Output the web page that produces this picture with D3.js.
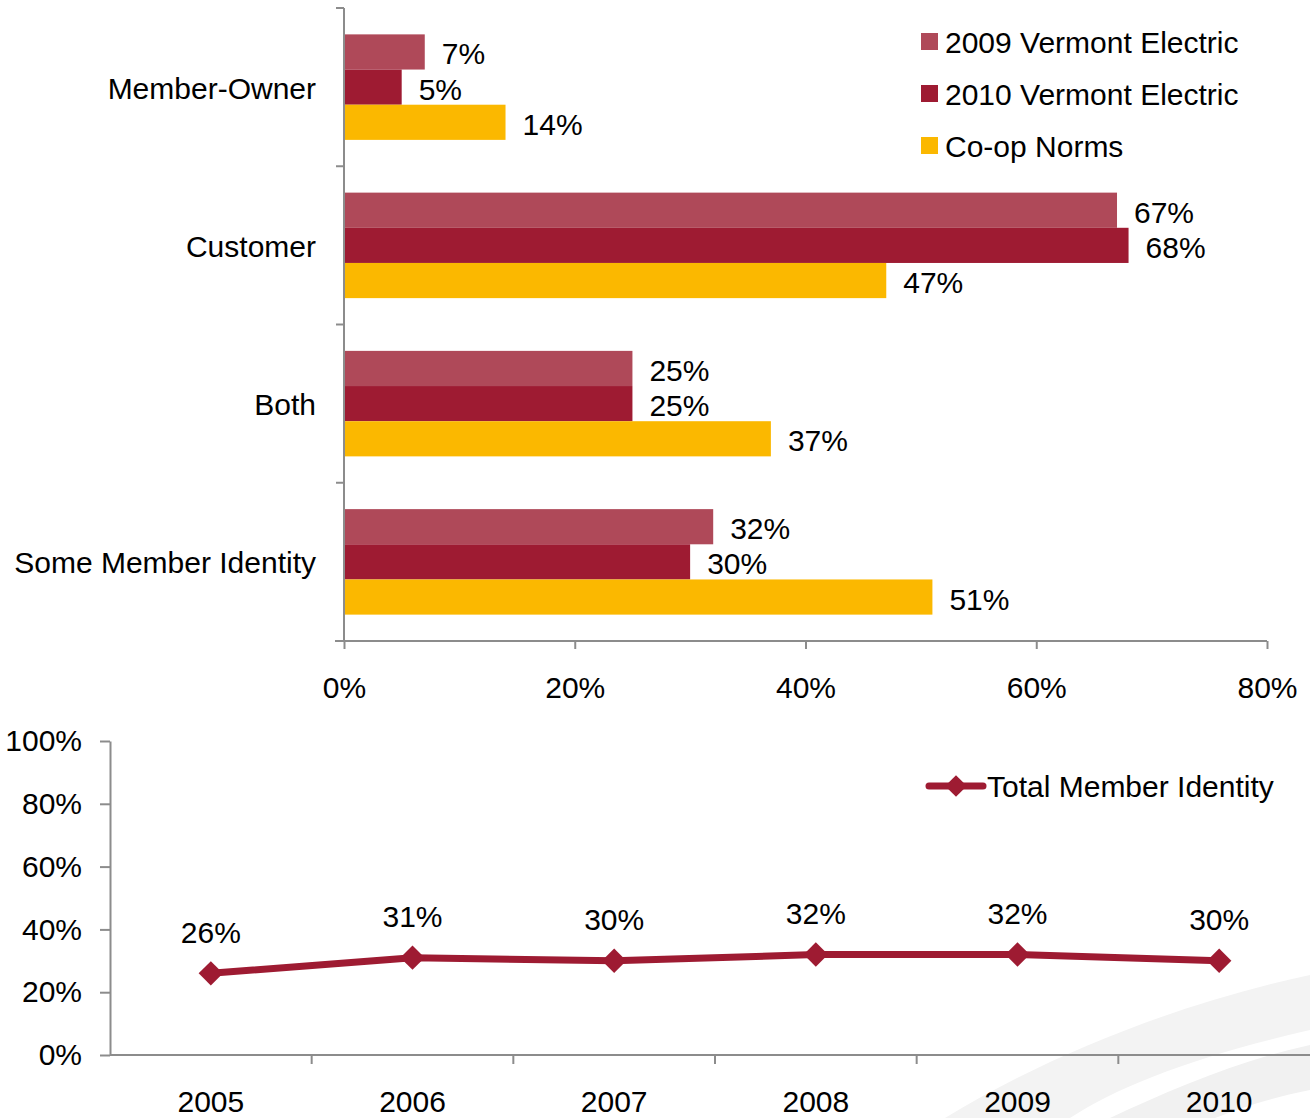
<!DOCTYPE html>
<html>
<head>
<meta charset="utf-8">
<script src="https://cdn.jsdelivr.net/npm/d3@7"></script>
<style>
  body { margin: 0; background: #fff; }
  svg { display: block; font-family: "Liberation Sans", Arial, sans-serif; }
  .axis path, .axis line { stroke: #8c8c8c; stroke-width: 2; }
  .axis text { font-size: 30px; fill: #000; }
</style>
</head>
<body>
<svg id="chart" width="1310" height="1118"></svg>
<script>
// top chart data
const categories = ["Member-Owner", "Customer", "Both", "Some Member Identity"];
const seriesNames = ["2009 Vermont Electric", "2010 Vermont Electric", "Co-op Norms"];
const vals2009 = [7, 67, 25, 32];
const vals2010 = [5, 68, 25, 30];
const valsNorms = [14, 47, 37, 51];
const barTicks = [0, 20, 40, 60, 80];

// bottom chart data
const years = ["2005", "2006", "2007", "2008", "2009", "2010"];
const totalIdentity = [26, 31, 30, 32, 32, 30];
const lineTicks = [0, 20, 40, 60, 80, 100];

const colors = ["#af4959", "#9e1b32", "#fbb800"];
const fs = 30;

const svg = d3.select("#chart");

// faint watermark swoosh, bottom right
svg.append("path")
  .attr("d", "M945,1118 C1040,1060 1170,1005 1310,975 L1310,1030 C1200,1055 1120,1085 1070,1118 Z")
  .attr("fill", "#f3f3f3");
svg.append("path")
  .attr("d", "M1110,1118 C1170,1090 1240,1060 1310,1045 L1310,1090 C1270,1098 1240,1108 1215,1118 Z")
  .attr("fill", "#f1f1f1");

// ---------- top: grouped horizontal bars ----------
const mTop = { left: 344, right: 1267, top: 8, bottom: 641 };
const gTop = svg.append("g");

const x = d3.scaleLinear().domain([0, 80]).range([mTop.left, mTop.right]);
const y0 = d3.scaleBand().domain(categories).range([mTop.top, mTop.bottom]).paddingInner(0).paddingOuter(0);
const y1 = d3.scaleBand().domain(seriesNames)
  .range([0, y0.bandwidth()]).paddingOuter(0.75).paddingInner(0);

const barRows = categories.map((c, i) => ({
  cat: c,
  values: [vals2009[i], vals2010[i], valsNorms[i]]
}));

// category boundary ticks on the left axis
gTop.append("g")
  .attr("class", "axis")
  .selectAll("line")
  .data(d3.range(categories.length + 1))
  .join("line")
  .attr("x1", mTop.left - 8).attr("x2", mTop.left)
  .attr("y1", i => mTop.top + i * y0.bandwidth())
  .attr("y2", i => mTop.top + i * y0.bandwidth());

const groups = gTop.selectAll(".grp")
  .data(barRows)
  .join("g")
  .attr("class", "grp")
  .attr("transform", d => `translate(0,${y0(d.cat)})`);

groups.selectAll("rect")
  .data(d => d.values.map((v, j) => ({ v, s: seriesNames[j], j })))
  .join("rect")
  .attr("x", x(0))
  .attr("y", d => y1(d.s))
  .attr("width", d => x(d.v) - x(0))
  .attr("height", y1.bandwidth())
  .attr("fill", d => colors[d.j]);

groups.selectAll("text.val")
  .data(d => d.values.map((v, j) => ({ v, s: seriesNames[j], j })))
  .join("text")
  .attr("class", "val")
  .attr("x", d => x(d.v) + 17)
  .attr("y", d => y1(d.s) + y1.bandwidth() / 2 + 2)
  .attr("dy", "0.35em")
  .style("font-size", fs + "px")
  .text(d => d.v + "%");

// category labels
gTop.selectAll("text.cat")
  .data(categories)
  .join("text")
  .attr("class", "cat")
  .attr("x", mTop.left - 28)
  .attr("y", d => y0(d) + y0.bandwidth() / 2 + 1)
  .attr("dy", "0.35em")
  .attr("text-anchor", "end")
  .style("font-size", fs + "px")
  .text(d => d);

// y axis line
gTop.append("line")
  .attr("x1", mTop.left).attr("x2", mTop.left)
  .attr("y1", mTop.top).attr("y2", mTop.bottom)
  .attr("stroke", "#8c8c8c").attr("stroke-width", 2);

// x axis
const xAxis = gTop.append("g")
  .attr("class", "axis")
  .attr("transform", `translate(0,${mTop.bottom})`)
  .call(d3.axisBottom(x).tickValues(barTicks).tickFormat(d => d + "%").tickSize(8).tickSizeOuter(0).tickPadding(28));
xAxis.select(".domain").attr("d", `M${mTop.left - 9},0H${mTop.right}`);

// legend
const legend = gTop.selectAll(".legend")
  .data(seriesNames)
  .join("g")
  .attr("class", "legend")
  .attr("transform", (d, i) => `translate(921,${33 + i * 52})`);
legend.append("rect").attr("width", 17).attr("height", 17).attr("fill", (d, i) => colors[i]);
legend.append("text")
  .attr("x", 24).attr("y", 9).attr("dy", "0.35em")
  .style("font-size", fs + "px")
  .text(d => d);

// ---------- bottom: line chart ----------
const mBot = { left: 110, right: 1320, top: 741, bottom: 1055 };
const gBot = svg.append("g");

const xb = d3.scaleBand().domain(years).range([mBot.left, mBot.right]);
const yb = d3.scaleLinear().domain([0, 100]).range([mBot.bottom, mBot.top]);

gBot.append("g")
  .attr("class", "axis")
  .attr("transform", `translate(${mBot.left},0)`)
  .call(d3.axisLeft(yb).tickValues(lineTicks).tickFormat(d => d + "%").tickSize(10).tickSizeOuter(0).tickPadding(18));

const xbAxis = gBot.append("g")
  .attr("class", "axis")
  .attr("transform", `translate(0,${mBot.bottom})`)
  .call(d3.axisBottom(xb).tickSize(0).tickPadding(36));
xbAxis.select(".domain").attr("d", `M${mBot.left},0H${mBot.right}`);
xbAxis.selectAll(".bound")
  .data(years.slice(1))
  .join("line")
  .attr("class", "bound")
  .attr("x1", d => xb(d)).attr("x2", d => xb(d))
  .attr("y1", 0).attr("y2", 9);

const pts = years.map((yr, i) => ({ yr, v: totalIdentity[i] }));
const cx = d => xb(d.yr) + xb.bandwidth() / 2;

gBot.append("path")
  .datum(pts)
  .attr("fill", "none")
  .attr("stroke", colors[1])
  .attr("stroke-width", 7)
  .attr("stroke-linejoin", "round")
  .attr("d", d3.line().x(cx).y(d => yb(d.v)));

const diamond = d3.symbol().type(d3.symbolDiamond2).size(380);
gBot.selectAll(".mk")
  .data(pts)
  .join("path")
  .attr("class", "mk")
  .attr("d", diamond)
  .attr("fill", colors[1])
  .attr("transform", d => `translate(${cx(d)},${yb(d.v)})`);

gBot.selectAll(".lbl")
  .data(pts)
  .join("text")
  .attr("class", "lbl")
  .attr("x", cx)
  .attr("y", d => yb(d.v) - 41)
  .attr("dy", "0.35em")
  .attr("text-anchor", "middle")
  .style("font-size", fs + "px")
  .text(d => d.v + "%");

// line legend
const lg = gBot.append("g").attr("transform", "translate(929,786)");
lg.append("line").attr("x1", 0).attr("x2", 54).attr("stroke", colors[1])
  .attr("stroke-width", 7).attr("stroke-linecap", "round");
lg.append("path").attr("d", d3.symbol().type(d3.symbolDiamond2).size(300)).attr("fill", colors[1]).attr("transform", "translate(27,0)");
lg.append("text").attr("x", 58).attr("dy", "0.35em").style("font-size", fs + "px").text("Total Member Identity");
</script>
</body>
</html>
